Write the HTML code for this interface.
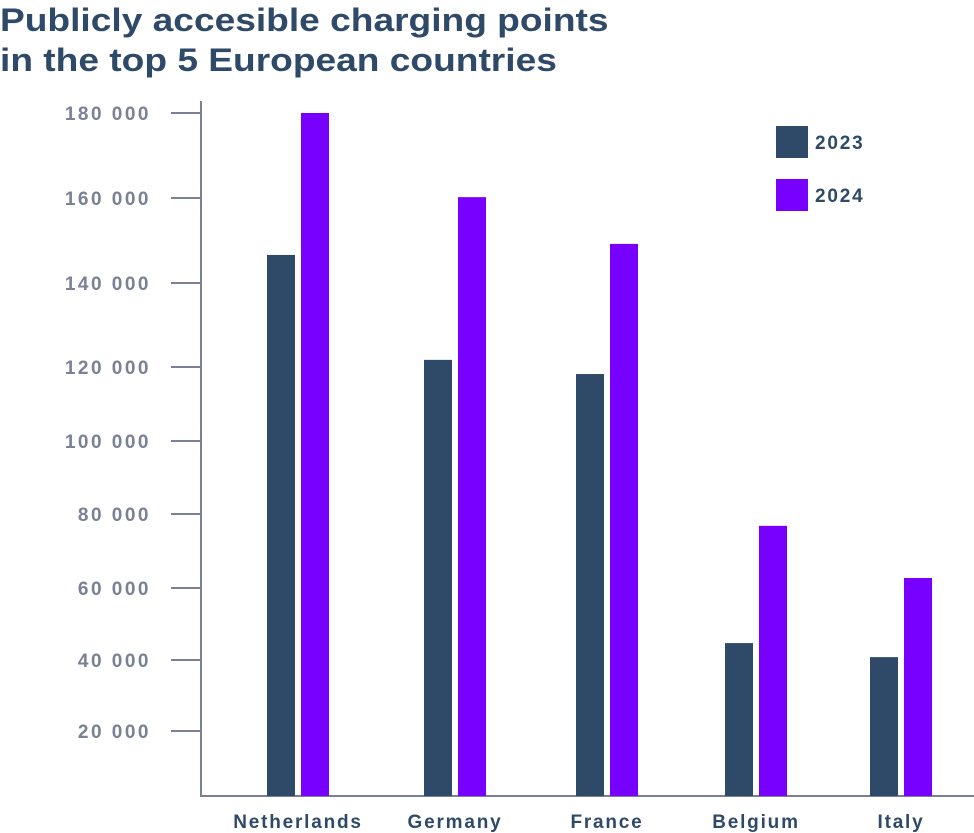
<!DOCTYPE html>
<html><head><meta charset="utf-8"><style>
body{margin:0;background:#fff;width:974px;height:833px;overflow:hidden;font-family:"Liberation Sans",sans-serif}
.title{position:absolute;left:0;top:0;font-weight:900;font-size:32px;line-height:40px;color:#2f4a68;transform:scaleX(1.16);transform-origin:0 0;white-space:nowrap}
</style></head><body>
<div class="title">Publicly accesible charging points<br>in the top 5 European countries</div>
<svg id="c" width="974" height="833" style="position:absolute;left:0;top:0"></svg>
<script>
const categories=["Netherlands","Germany","France","Belgium","Italy"];
const values2023=[146600,121700,118100,44700,40800];
const values2024=[180000,160200,149200,76800,62700];
const tickValues=[0,20000,40000,60000,80000,100000,120000,140000,160000,180000];
const tickLabels=["","20 000","40 000","60 000","80 000","100 000","120 000","140 000","160 000","180 000"];
// axis positions (pixel mapping of the non-uniform axis)
const tickPix=[796,731,660,588,514,441,367,283,198,113];
const catCenters=[298,455,607,756,901];
function y(v){for(let i=0;i<tickValues.length-1;i++){if(v<=tickValues[i+1]){const t=(v-tickValues[i])/(tickValues[i+1]-tickValues[i]);return tickPix[i]+t*(tickPix[i+1]-tickPix[i]);}}return tickPix[tickPix.length-1];}
const svg=document.getElementById('c');const NS="http://www.w3.org/2000/svg";
function mk(t,a,txt){const e=document.createElementNS(NS,t);for(const k in a)e.setAttribute(k,a[k]);if(txt)e.textContent=txt;svg.appendChild(e);return e;}
const ax="#7a8095";
let e=mk('line',{x1:201,y1:101,x2:201,y2:797,stroke:ax,'stroke-width':2});


e=mk('line',{x1:200,y1:796,x2:974,y2:796,stroke:ax,'stroke-width':2});


tickValues.forEach((v,i)=>{if(!tickLabels[i])return;const yy=y(v);
const l=mk('line',{x1:171,y1:yy,x2:201,y2:yy,stroke:ax,'stroke-width':2});


const t=mk('text',{x:151,y:yy+7,'text-anchor':'end','font-size':19,'font-weight':700,'letter-spacing':2.5,fill:ax},tickLabels[i]);

});
const bw=28;
categories.forEach((c,i)=>{const cx=catCenters[i];
const a=y(values2023[i]);const r1=mk('rect',{x:cx-31,y:a,width:bw,height:796-a,fill:"#2f4a68"});


const b=y(values2024[i]);const r2=mk('rect',{x:cx+3,y:b,width:bw,height:796-b,fill:"#7700ff"});


const t=mk('text',{x:cx,y:828,'text-anchor':'middle','font-size':19,'font-weight':700,'letter-spacing':1.8,fill:"#2f4a68"},c);

});
[["2023","#2f4a68",126],["2024","#7700ff",179]].forEach(([n,col,yy])=>{
const r=mk('rect',{x:776,y:yy,width:32,height:32,fill:col});


const t=mk('text',{x:815,y:yy+23,'font-size':19,'font-weight':700,'letter-spacing':1.8,fill:"#2f4a68"},n);

});
</script>
</body></html>
